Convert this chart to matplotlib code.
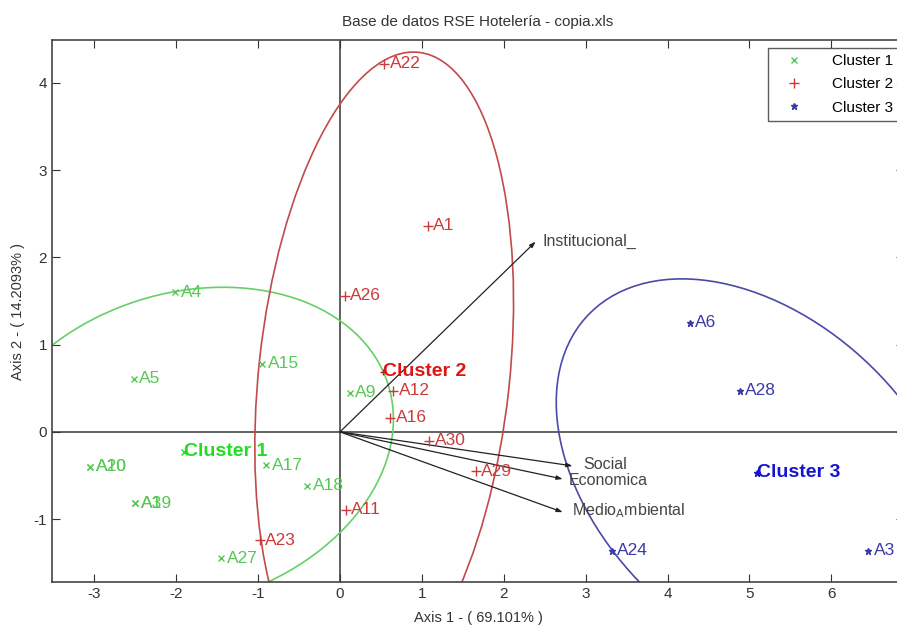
import numpy as np
import matplotlib
matplotlib.use("Agg")
import matplotlib.pyplot as plt
from matplotlib.patches import Ellipse

plt.rcParams['font.family'] = ['Liberation Sans', 'DejaVu Sans']
plt.rcParams['axes.unicode_minus'] = False

# ---- data ----
c1_labels = ["A4", "A5", "A15", "A9", "A10", "A20", "A3", "A19", "A17", "A18", "A27"]
c1_x = [-2.01, -2.52, -0.95, 0.12, -3.05, -3.05, -2.50, -2.50, -0.90, -0.40, -1.45]
c1_y = [1.60, 0.61, 0.78, 0.45, -0.40, -0.40, -0.82, -0.82, -0.38, -0.62, -1.45]

c2_labels = ["A22", "A1", "A26", "A12", "A16", "A30", "A29", "A11", "A23"]
c2_x = [0.54, 1.07, 0.06, 0.65, 0.61, 1.09, 1.66, 0.07, -0.98]
c2_y = [4.22, 2.36, 1.56, 0.47, 0.16, -0.10, -0.45, -0.89, -1.24]

c3_labels = ["A6", "A28", "A24", "A3"]
c3_x = [4.27, 4.88, 3.32, 6.45]
c3_y = [1.25, 0.47, -1.36, -1.36]

centroid_names = ["Cluster 1", "Cluster 2", "Cluster 3"]
centroid_x = [-1.91, 0.52, 5.09]
centroid_y = [-0.23, 0.69, -0.47]

var_names = ["Institucional_", "Social", "Economica", r"Medio$_\mathrm{A}$mbiental"]
var_x = [2.39, 2.84, 2.72, 2.72]
var_y = [2.18, -0.39, -0.54, -0.92]

# cluster ellipses: centre x, centre y, width, height, angle (deg)
ell_cx = [-1.888, 0.540, 5.119]
ell_cy = [-0.188, 0.658, -0.530]
ell_w = [5.167, 7.429, 5.615]
ell_h = [3.569, 3.061, 3.726]
ell_ang = [-165.48, -96.64, 141.08]

green_pt = "#55c855"
red_pt = "#cc3a3a"
blue_pt = "#3a3aa8"

fig = plt.figure(figsize=(8.97, 6.26), dpi=100)
ax = fig.add_axes([52/897, 1-582/626, (904-52)/897, (582-40)/626])
ax.set_xlim(-3.516, 6.887)
ax.set_ylim(-1.72, 4.49)

ax.axhline(0, color="#555555", lw=1.3, zorder=1)
ax.axvline(0, color="#555555", lw=1.3, zorder=1)

ell_cols = ["#66d066", "#c24a4a", "#4a4aa8"]
for cx, cy, w, h, ang, col in zip(ell_cx, ell_cy, ell_w, ell_h, ell_ang, ell_cols):
    ax.add_patch(Ellipse((cx, cy), w, h, angle=ang, fill=False, ec=col, lw=1.2, zorder=2))

for x0, y0 in zip(var_x, var_y):
    ax.annotate("", xy=(x0, y0), xytext=(0, 0),
                arrowprops=dict(arrowstyle="-|>,head_length=0.35,head_width=0.12",
                                color="#222222", lw=0.9, shrinkA=0, shrinkB=0), zorder=3)
offs = [0.08, 0.13, 0.07, 0.11]
for x0, y0, name, o, dy in zip(var_x, var_y, var_names, offs, [0, 0.02, -0.02, 0.02]):
    ax.text(x0 + o, y0 + dy, name, fontsize=11.5, color="#444444", ha="left", va="center", zorder=4)

ax.plot(c1_x, c1_y, "x", color=green_pt, ms=5, mew=1, ls="none", label="Cluster 1", zorder=5)
ax.plot(c2_x, c2_y, "+", color=red_pt, ms=7, mew=1, ls="none", label="Cluster 2", zorder=5)
ax.plot(c3_x, c3_y, "*", color=blue_pt, ms=5, mew=1, ls="none", label="Cluster 3", zorder=5)

for labs, xs, ys, col in [(c1_labels, c1_x, c1_y, green_pt), (c2_labels, c2_x, c2_y, red_pt),
                          (c3_labels, c3_x, c3_y, blue_pt)]:
    for lab, x0, y0 in zip(labs, xs, ys):
        ax.annotate(lab, (x0, y0), xytext=(4, 0), textcoords="offset points",
                    fontsize=12.5, color=col, ha="left", va="center", zorder=6,
                    annotation_clip=False)

cent_cols = ["#22dd22", "#dd1515", "#1515cc"]
cent_mk = ["x", "+", "*"]
for name, x0, y0, col, mk in zip(centroid_names, centroid_x, centroid_y, cent_cols, cent_mk):
    ax.plot([x0], [y0], mk, color=col, ms=5, zorder=6)
    ax.text(x0, y0, name, fontsize=14, fontweight="bold", color=col, ha="left", va="center", zorder=7)

ax.set_xticks(range(-3, 7))
ax.set_yticks(range(-1, 5))
ax.tick_params(direction="in", top=True, right=True, length=6, labelsize=11, colors="#333333")
for sp in ax.spines.values():
    sp.set_color("#444444")
    sp.set_linewidth(1.2)

ax.set_title("Base de datos RSE Hotelería - copia.xls", fontsize=11, color="#333333", pad=10)
ax.set_xlabel("Axis 1 - ( 69.101% )", fontsize=10.5, color="#333333", labelpad=7)
ax.set_ylabel("Axis 2 - ( 14.2093% )", fontsize=10.5, color="#333333", labelpad=6)

leg = ax.legend(loc="upper left", bbox_to_anchor=(0.840, 0.985), borderaxespad=0,
                fontsize=11, frameon=True, fancybox=False, edgecolor="#333333",
                handlelength=2.6, handletextpad=1.2, labelspacing=0.6, borderpad=0.4)
leg.get_frame().set_linewidth(1.0)

fig.savefig("out.png", dpi=100)
